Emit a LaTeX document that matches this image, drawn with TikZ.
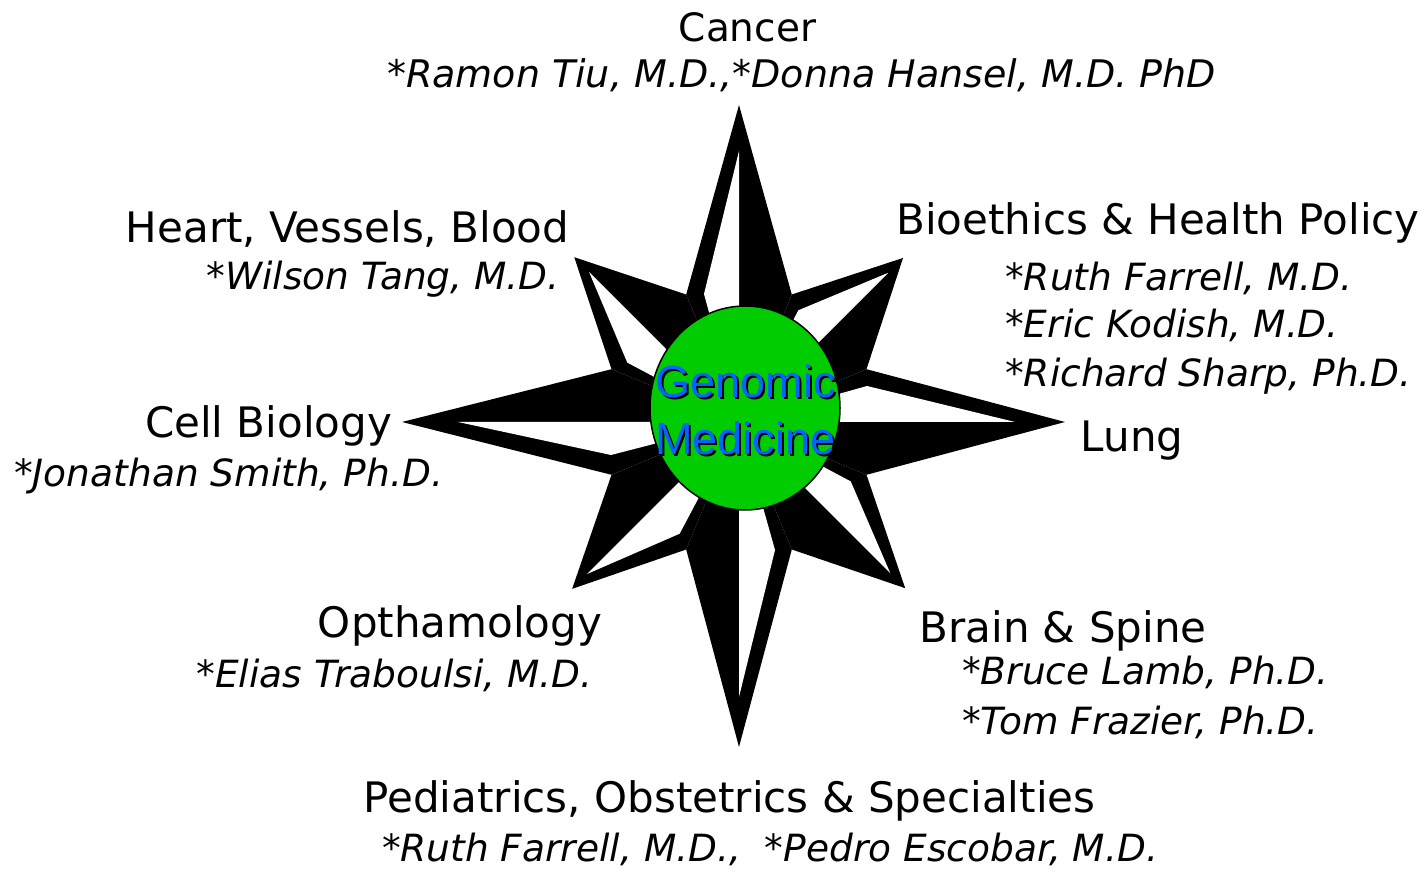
\documentclass[tikz,border=0pt]{standalone}
\usepackage{fontspec}
\setmainfont{DejaVu Sans}
\newfontfamily\hubfont{Liberation Sans}
\usetikzlibrary{shapes.geometric}
\definecolor{hubgreen}{RGB}{0,204,0}
\definecolor{hubblue}{RGB}{0,102,255}
\newcommand{\fieldsize}{\fontsize{42}{50}\selectfont}
\newcommand{\membersize}{\fontsize{37.5}{44}\selectfont\itshape}

\begin{document}
\begin{tikzpicture}[x=1pt,y=1pt,
    field/.style={inner sep=0pt,anchor=base,font=\fieldsize},
    member/.style={inner sep=0pt,anchor=base,font=\membersize},
    hub/.style={draw,line width=1.5pt,fill=hubgreen,ellipse,
      minimum width=190pt,minimum height=204pt,inner sep=0pt},
    hubword/.style={inner sep=0pt,anchor=base,text=hubblue,
      font=\hubfont\fontsize{45}{50}\selectfont}]

  \useasboundingbox (0,0) rectangle (1427,878);

  \begin{scope}[shift={(739,456)}]
    \foreach \ang/\len/\gap/\au/\av in {0/326/50/128/36,45/232/21/121/37,
        90/317/46/128/35,135/233/21/121/37,180/337/56/128/33,
        225/236/21/121/37,270/325/50/128/36,315/235/21/121/37} {
      \fill (0,0) -- (\ang-22.5:138) -- (\ang:\len) -- (\ang+22.5:138) -- cycle;
      \fill[white,rotate=\ang] (\len-\gap,0) -- (\au,\av) -- (0,0) -- cycle;
    }
  \end{scope}

  \node[hub] (hub) at (745,470) {};
  \foreach \word/\y in {Genomic/480,Medicine/423} {
    \node[hubword,text=black] (\word-shadow) at (747.5,\y-2) {\word};
    \node[hubword] (\word) at (745.5,\y) {\word};
  }

  \node[field,font=\fontsize{39}{46}\selectfont] (cancer) at (747.5,836) {Cancer};
  \node[member,font=\fontsize{38}{44}\selectfont\itshape] (cancerteam) at (801.5,790)
    {*Ramon Tiu, M.D.,*Donna Hansel, M.D. PhD};

  \node[field] (heart) at (347.5,635) {Heart, Vessels, Blood};
  \node[member] (heartteam) at (383,588) {*Wilson Tang, M.D.};

  \node[field] (bioethics) at (1158,643) {Bioethics \& Health Policy};
  \node[member,anchor=base west] (bioteam1) at (1005,587) {*Ruth Farrell, M.D.};
  \node[member,anchor=base west] (bioteam2) at (1005,540) {*Eric Kodish, M.D.};
  \node[member,anchor=base west] (bioteam3) at (1005,491) {*Richard Sharp, Ph.D.};

  \node[field] (cell) at (268.5,440) {Cell Biology};
  \node[member] (cellteam) at (228.5,391) {*Jonathan Smith, Ph.D.};

  \node[field] (lung) at (1132,426) {Lung};

  \node[field] (optha) at (460,240) {Opthamology};
  \node[member] (opthateam) at (394.5,190) {*Elias Traboulsi, M.D.};

  \node[field] (brain) at (1063,235) {Brain \& Spine};
  \node[member,anchor=base west] (brainteam1) at (962,193) {*Bruce Lamb, Ph.D.};
  \node[member,anchor=base west] (brainteam2) at (962,143) {*Tom Frazier, Ph.D.};

  \node[field] (pediatrics) at (729.5,65)
    {Pediatrics, Obstetrics \& Specialties};
  \node[member] (pediatricsteam) at (770,16)
    {*Ruth Farrell, M.D., \ *Pedro Escobar, M.D.};
\end{tikzpicture}
\end{document}
